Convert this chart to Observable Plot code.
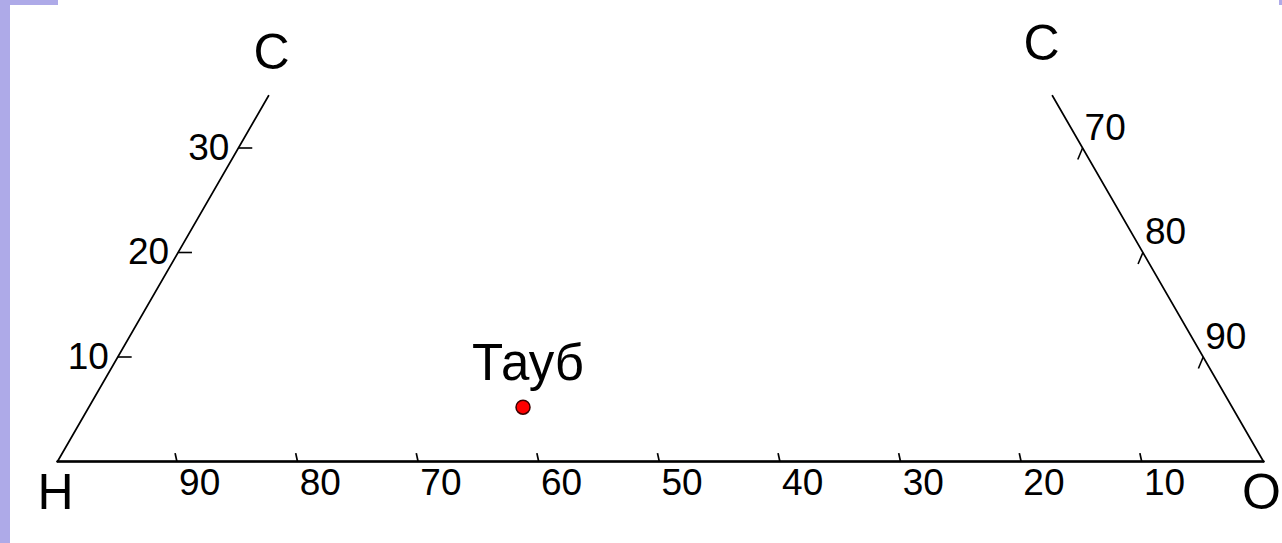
<!DOCTYPE html>
<html>
<head>
<meta charset="utf-8">
<script src="https://cdn.jsdelivr.net/npm/d3@7"></script>
<script src="https://cdn.jsdelivr.net/npm/@observablehq/plot@0.6"></script>
<style>
  html, body { margin: 0; padding: 0; background: #fff; overflow: hidden; }
  #wrap { position: relative; width: 1282px; height: 543px; }
  .bar { position: absolute; background: #aeaae8; z-index: 2; }
</style>
</head>
<body>
<div id="wrap">
  <div class="bar" style="left:0;top:0;width:10px;height:543px"></div>
  <div class="bar" style="left:0;top:0;width:58px;height:5px"></div>
  <div class="bar" style="left:1279px;top:0;width:3px;height:5px"></div>
</div>
<script>
// Ternary H–C–O diagram (truncated at C = 35 %)
const cMax = 35;
const baseTicks = [90, 80, 70, 60, 50, 40, 30, 20, 10];   // H %, along H–O side
const leftTicks = [10, 20, 30];                            // C %, along H–C side
const rightTicks = [70, 80, 90];                           // O %, along C–O side
const cornerNames = ["H", "O", "C", "C"];
const samples = ["Тауб"];
const sampleH = [58.8];
const sampleC = [5.2];
const sampleO = [36.0];

// ternary → cartesian (x in %, y = C %)
const tern = (h, c, o) => ({x: o + c / 2, y: c});

const edges = [
  [tern(100, 0, 0), tern(0, 0, 100)],
  [tern(100, 0, 0), tern(100 - cMax, cMax, 0)],
  [tern(0, 0, 100), tern(0, cMax, 100 - cMax)]
].map((pts, i) => pts.map(p => ({...p, edge: i})));
const edgePts = edges.flat();

const baseT = baseTicks.map(h => ({...tern(h, 0, 100 - h), label: String(h)}));
const leftT = leftTicks.map(c => ({...tern(100 - c, c, 0), label: String(c)}));
const rightT = rightTicks.map(o => ({...tern(0, 100 - o, o), label: String(o)}));

const corners = [
  {...tern(100, 0, 0), name: cornerNames[0], dx: -2, dy: 31},
  {...tern(0, 0, 100), name: cornerNames[1], dx: -2, dy: 31},
  {...tern(100 - cMax, cMax, 0), name: cornerNames[2], dx: 3, dy: -43},
  {...tern(0, cMax, 100 - cMax), name: cornerNames[3], dx: -11, dy: -52}
];

const pts = samples.map((s, i) => ({...tern(sampleH[i], sampleC[i], sampleO[i]), name: s}));

const font = "'Liberation Sans', Arial, sans-serif";

const chart = Plot.plot({
  width: 1282,
  height: 543,
  margin: 0,
  style: {background: "transparent", fontFamily: font, overflow: "visible"},
  x: {domain: [0, 100], range: [57, 1263], axis: null},
  y: {domain: [0, 100], range: [461, 461 - 1045], axis: null},
  marks: [
    Plot.line(edgePts, {x: "x", y: "y", z: "edge", stroke: "#000", strokeWidth: 1.7}),
    Plot.line(edges[0], {x: "x", y: "y", stroke: "#000", strokeWidth: 2.4}),
    // ticks
    Plot.link(baseT, {x1: d => d.x - 0.1, y1: "y", x2: d => d.x - 0.25, y2: d => d.y + 0.8, stroke: "#000", strokeWidth: 1.7}),
    Plot.link(leftT, {x1: "x", y1: "y", x2: d => d.x + 1.15, y2: "y", stroke: "#000", strokeWidth: 1.6}),
    Plot.link(rightT, {x1: "x", y1: "y", x2: d => d.x - 0.4, y2: d => d.y - 1.1, stroke: "#000", strokeWidth: 1.6}),
    // tick labels
    Plot.text(baseT, {x: "x", y: "y", text: "label", textAnchor: "start", dx: 1, dy: 22, fontSize: 37, fill: "#000"}),
    Plot.text(leftT, {x: "x", y: "y", text: "label", textAnchor: "end", dx: -9, dy: 0, fontSize: 37, fill: "#000"}),
    Plot.text(rightT, {x: "x", y: "y", text: "label", textAnchor: "start", dx: 2, dy: -20, fontSize: 37, fill: "#000"}),
    // corner labels
    ...corners.map(c => Plot.text([c], {x: "x", y: "y", text: "name", dx: c.dx, dy: c.dy, fontSize: 50, fill: "#000"})),
    // sample
    Plot.dot(pts, {x: "x", y: "y", r: 7, fill: "#ff0000", stroke: "#3a0000", strokeWidth: 1.5}),
    Plot.text(pts, {x: "x", y: "y", text: "name", dx: 5, dy: -43, fontSize: 51, fill: "#000"})
  ]
});
document.getElementById("wrap").appendChild(chart);
chart.style.position = "absolute";
chart.style.left = "0";
chart.style.top = "0";
</script>
</body>
</html>
